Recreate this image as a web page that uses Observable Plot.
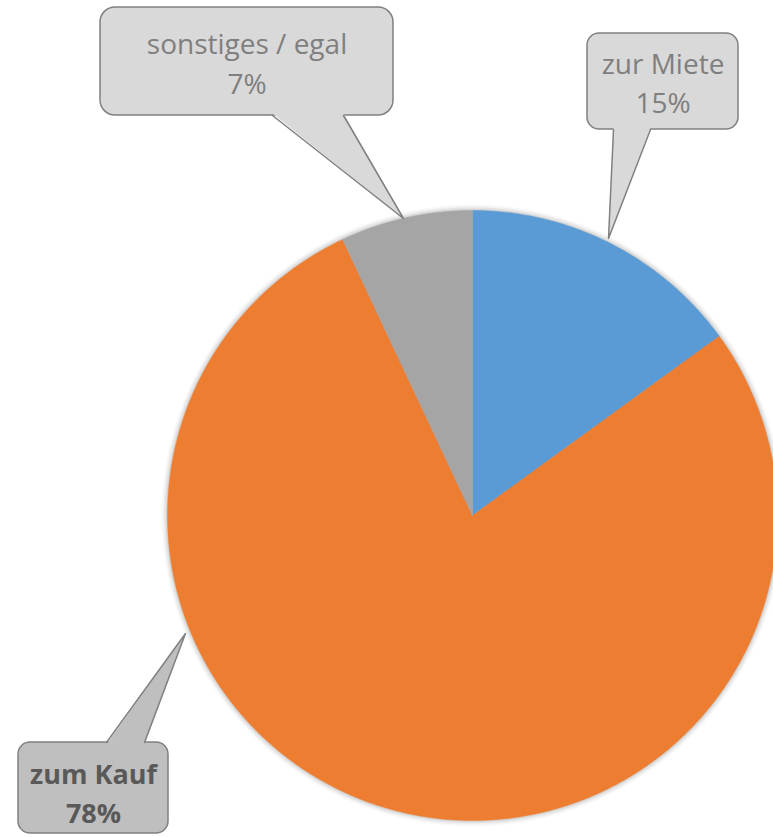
<!DOCTYPE html>
<html>
<head>
<meta charset="utf-8">
<script src="https://cdn.jsdelivr.net/npm/d3@7"></script>
<script src="https://cdn.jsdelivr.net/npm/@observablehq/plot@0.6"></script>
<style>
  html, body { margin: 0; padding: 0; background: #fff; }
  #chart svg { display: block; }
</style>
</head>
<body>
<div id="chart"></div>
<script>
// ---- data ----
const categories = ["zur Miete", "zum Kauf", "sonstiges / egal"];
const shares = [15, 78, 7];
const percentLabels = ["15%", "78%", "7%"];
const sliceColors = ["#5B9BD5", "#ED7D31", "#A5A5A5"];

// ---- layout (pixels) ----
const W = 773, H = 837;
const cx = 472, cy = 515, R = 305;
const callouts = [
  { box: [587, 33, 738, 129], rx: 12, base: [613, 650], tip: [608, 238], lines: [73, 112],
    fill: "#D9D9D9", color: "#7F7F7F", weight: "normal", size: 28 },
  { box: [18, 742, 168, 833], rx: 12, base: [106, 144], tip: [185, 633], lines: [783, 822],
    fill: "#BFBFBF", color: "#595959", weight: "bold", size: 27 },
  { box: [100, 7, 393, 115], rx: 15, base: [272, 343], tip: [403, 218], lines: [53, 93],
    fill: "#D9D9D9", color: "#7F7F7F", weight: "normal", size: 28 }
];

// slices as polygons derived from shares
const total = d3.sum(shares);
let cum = 0;
const slices = shares.map((v, i) => {
  const a0 = cum / total * 2 * Math.PI;
  cum += v;
  const a1 = cum / total * 2 * Math.PI;
  const n = Math.max(2, Math.ceil((a1 - a0) / (Math.PI / 360)));
  const pts = [[cx, cy]];
  for (let k = 0; k <= n; k++) {
    const a = a0 + (a1 - a0) * k / n;
    pts.push([cx + R * Math.sin(a), cy - R * Math.cos(a)]);
  }
  pts.push([cx, cy]);
  return { name: categories[i], color: sliceColors[i], pts };
});

const marks = [];
// soft shadow around the pie
[[6, 0.025], [4.5, 0.035], [3, 0.05], [1.5, 0.07]].forEach(([dr, op]) => {
  marks.push(Plot.dot([[cx, cy]], { x: d => d[0], y: d => d[1], r: R + dr, fill: "#000", fillOpacity: op, stroke: "none" }));
});
slices.forEach(s => {
  marks.push(Plot.line(s.pts, { x: d => d[0], y: d => d[1], fill: s.color, stroke: s.color, strokeWidth: 0.5, curve: "linear" }));
});

callouts.forEach((c, i) => {
  const [x1, y1, x2, y2] = c.box;
  marks.push(Plot.rect([c], { x1: () => x1, y1: () => y1, x2: () => x2, y2: () => y2, rx: c.rx, fill: c.fill, stroke: "#808080", strokeWidth: 1.5 }));
  const bl = [c.base[0], y1 > c.tip[1] ? y1 : y2];
  const br = [c.base[1], bl[1]];
  const inward = y1 > c.tip[1] ? 2 : -2;
  const poly = [[bl[0], bl[1] + inward], c.tip, [br[0], br[1] + inward], [bl[0], bl[1] + inward]];
  marks.push(Plot.line(poly, { x: d => d[0], y: d => d[1], fill: c.fill, stroke: "none" }));
  marks.push(Plot.line([bl, c.tip, br], { x: d => d[0], y: d => d[1], stroke: "#808080", strokeWidth: 1.5 }));
  const tx = (x1 + x2) / 2;
  const textRows = [
    { t: categories[i], y: c.lines[0] },
    { t: percentLabels[i], y: c.lines[1] }
  ];
  marks.push(Plot.text(textRows, { x: () => tx, y: "y", text: "t", lineAnchor: "bottom", textAnchor: "middle",
    fill: c.color, fontSize: c.size, fontWeight: c.weight, fontFamily: "Open Sans" }));
});

const plot = Plot.plot({
  width: W, height: H, margin: 0,
  x: { type: "linear", domain: [0, W], range: [0, W], axis: null },
  y: { type: "linear", domain: [0, H], range: [0, H], axis: null },
  style: { fontFamily: "Open Sans", background: "#fff" },
  marks
});
document.getElementById("chart").appendChild(plot);
</script>
</body>
</html>
